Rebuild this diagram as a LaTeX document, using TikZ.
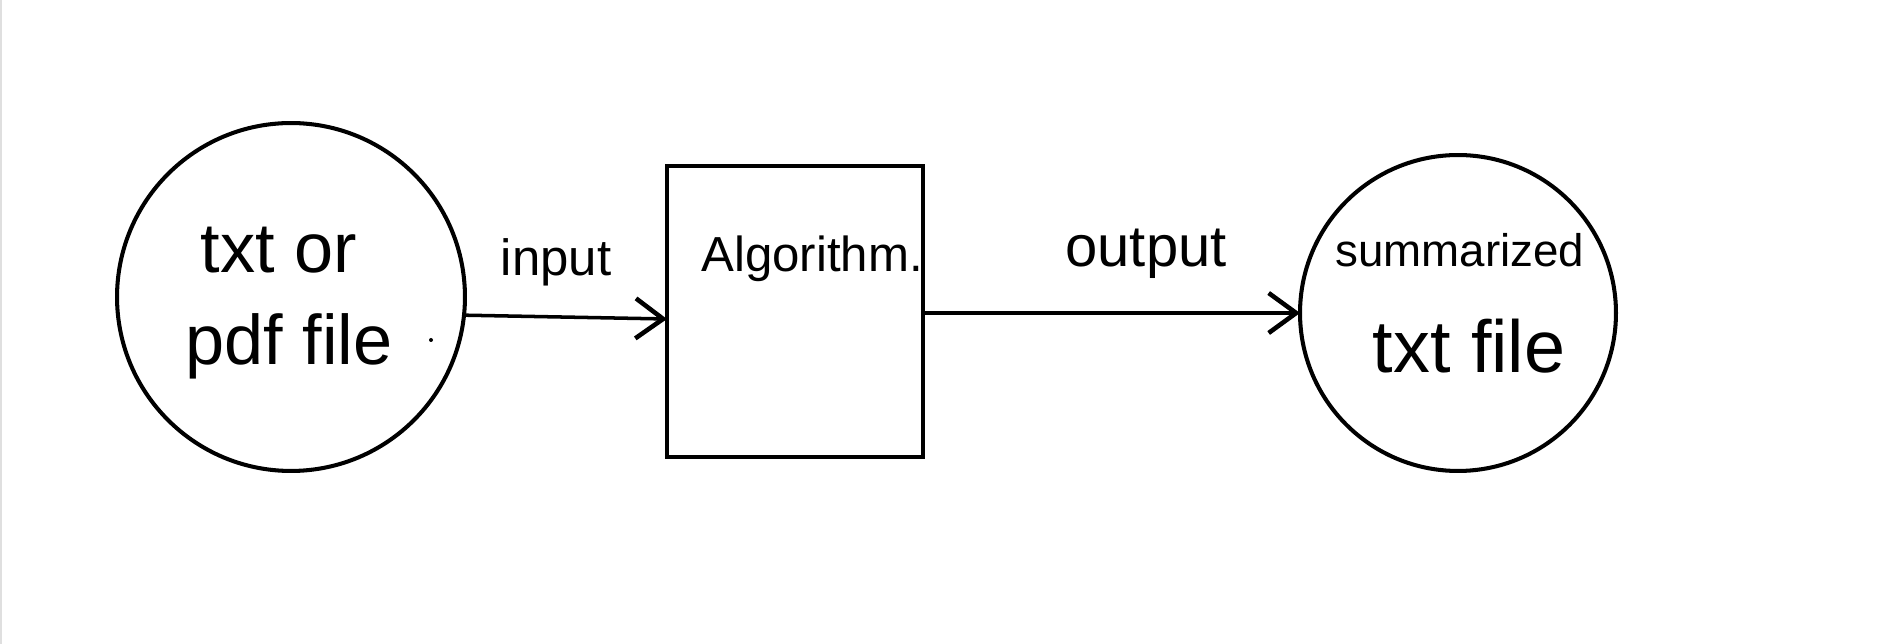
\documentclass[tikz,border=0pt]{standalone}
\usepackage{fontspec}
\setmainfont{Liberation Sans}
\usetikzlibrary{arrows.meta}
\begin{document}
\begin{tikzpicture}[x=0.02cm,y=-0.02cm,
  stroke/.style={draw=black,line width=2.3pt},
  blob/.style={stroke,circle,inner sep=0pt,outer sep=0pt},
  boxnode/.style={stroke,rectangle,inner sep=0pt,outer sep=0pt,minimum width=5.12cm,minimum height=5.82cm},
  arr/.style={draw=black,line width=2pt,-{Straight Barb[length=0.55cm,width=0.8cm,line width=2.6pt]}},
  hand/.style={inner sep=0pt,anchor=center}]
\fill[white] (0,0) rectangle (1887,644);
\useasboundingbox (0,0) rectangle (1887,644);
\draw[gray!25,line width=1.2pt] (1,0) -- (1,644);
% nodes
\node[blob,minimum size=6.96cm] (lc) at (291,297) {};
\node[boxnode] (alg) at (795,311.5) {};
\node[blob,minimum size=6.32cm] (rc) at (1458,313) {};
% texts
\node[hand,font=\fontsize{40}{44}\selectfont] (t1) at (279,250) {txt or};
\node[hand,font=\fontsize{40}{44}\selectfont] (t2) at (289,346) {pdf file};
\node[hand,font=\fontsize{29}{32}\selectfont] (tin) at (556,262) {input};
\node[hand,font=\fontsize{28}{32}\selectfont] (talg) at (812,259) {Algorithm.};
\node[hand,font=\fontsize{33}{36}\selectfont] (tout) at (1146,254) {output};
\node[hand,font=\fontsize{26}{30}\selectfont] (tsum) at (1460,250) {summarized};
\node[hand,font=\fontsize{42}{46}\selectfont] (ttxt) at (1469,346) {txt file};
% stray dot
\fill (431,340) circle (2);
% connectors
\draw[arr] (lc.-6) -- ([yshift=-0.15cm]alg.west);
\draw[arr] (rc.west -| alg.east) -- (rc.west);
\end{tikzpicture}
\end{document}
